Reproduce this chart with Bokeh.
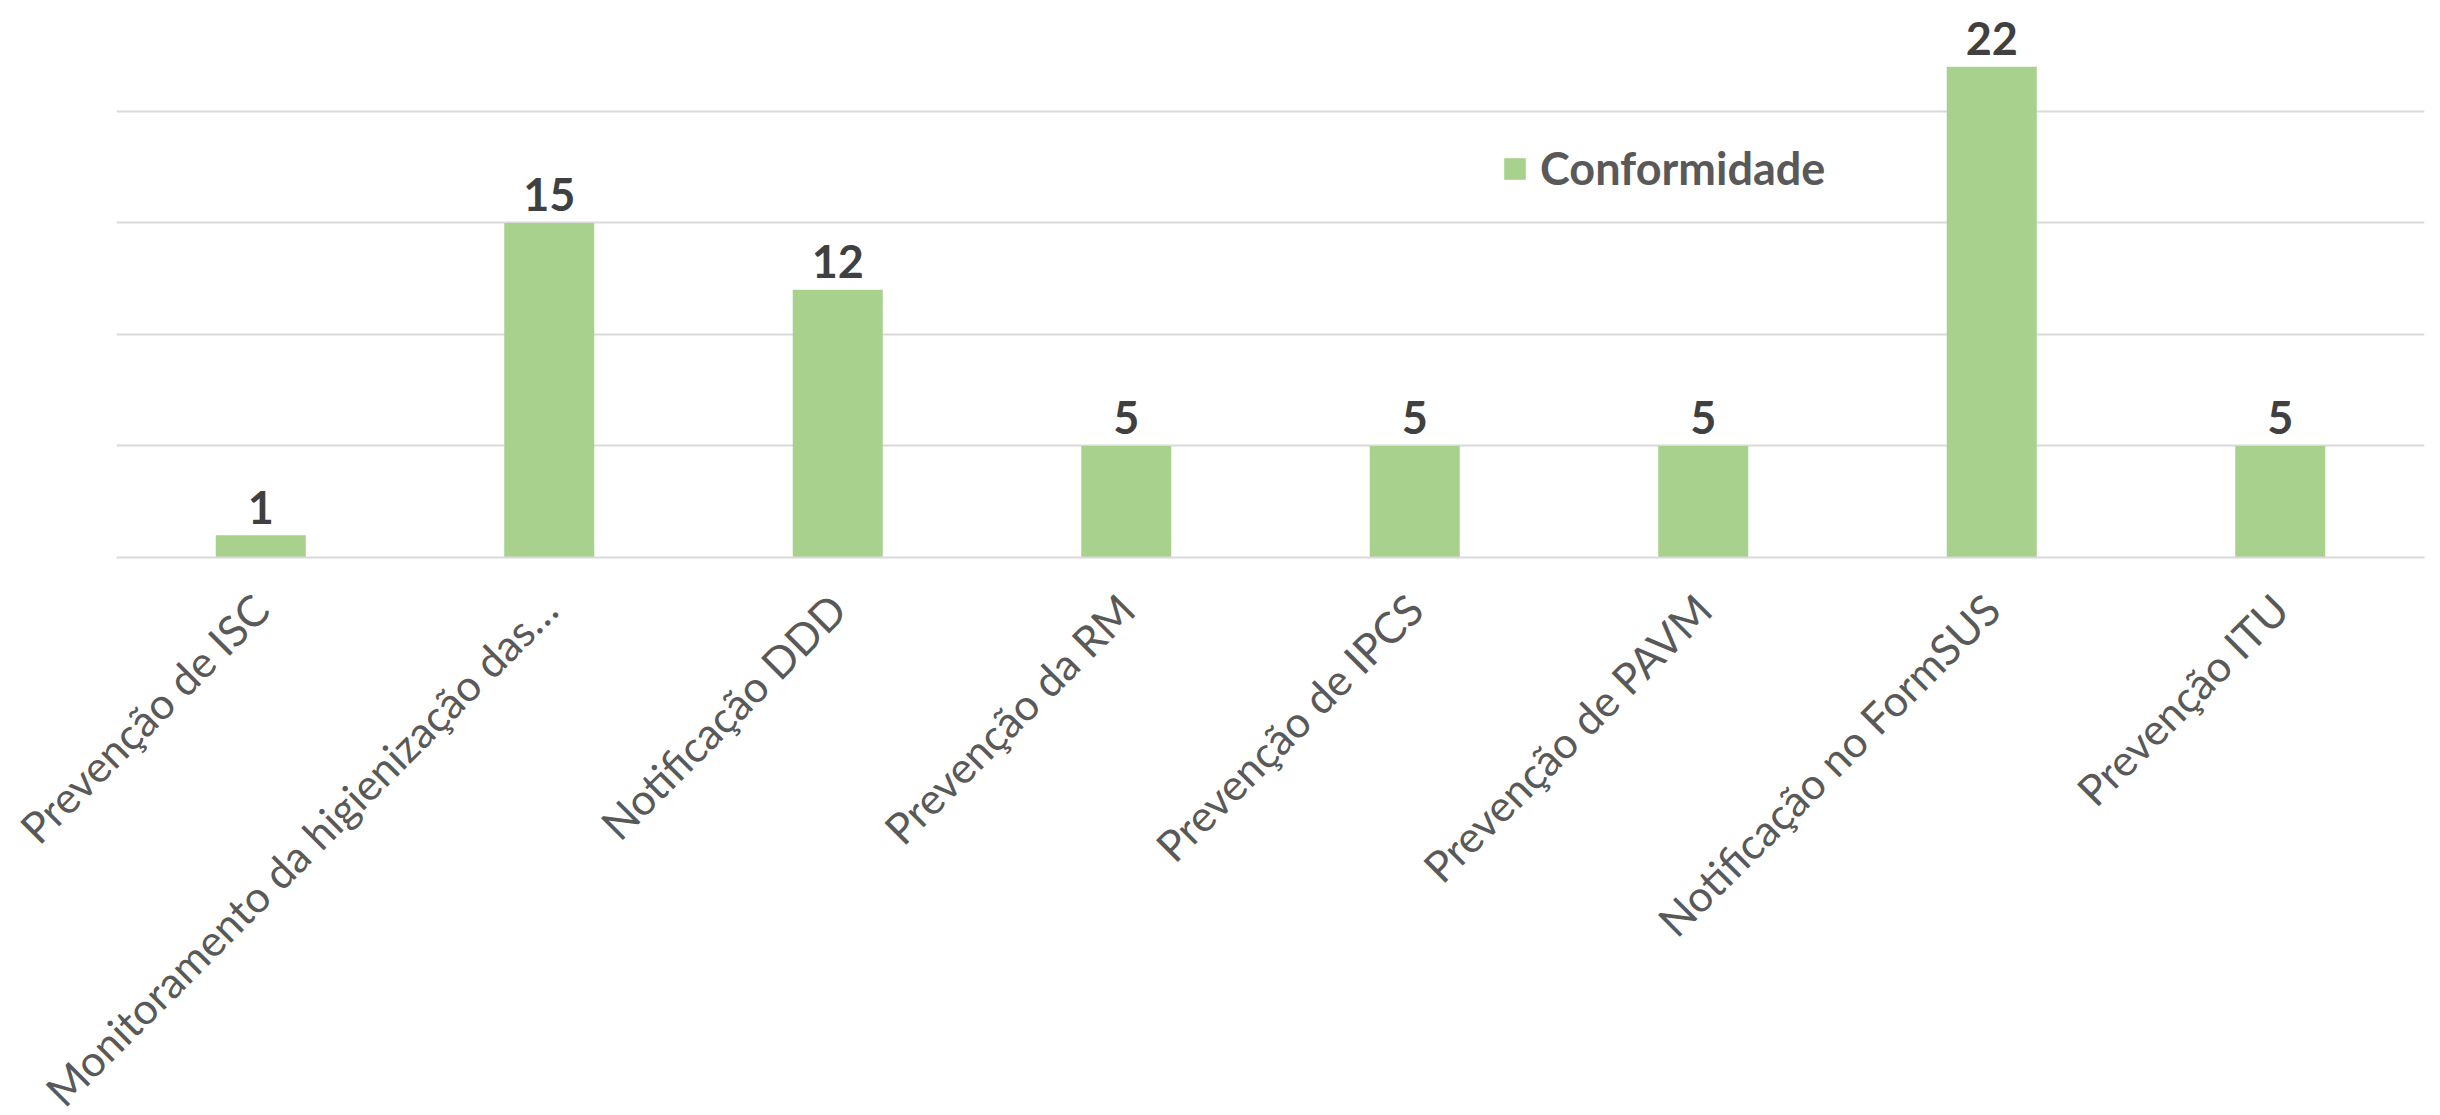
from bokeh.plotting import figure
from bokeh.models import ColumnDataSource, FactorRange, Range1d, Legend, LegendItem, FixedTicker
from bokeh.core.properties import value
from bokeh.embed import file_html
from bokeh.resources import INLINE

categories = [
    "Prevenção de ISC",
    "Monitoramento da higienização das…",
    "Notificação DDD",
    "Prevenção da RM",
    "Prevenção de IPCS",
    "Prevenção de PAVM",
    "Notificação no FormSUS",
    "Prevenção ITU",
]
conformidade = [1, 15, 12, 5, 5, 5, 22, 5]
labels = [str(v) for v in conformidade]
grid_ticks = [0, 5, 10, 15, 20]
series_name = "Conformidade"

BAR = "#A9D18E"
GRID = "#D9D9D9"

src = ColumnDataSource(dict(cat=categories, val=conformidade, lab=labels))

p = figure(
    x_range=FactorRange(*categories, range_padding=0),
    y_range=Range1d(0, 24.97),
    frame_width=2308, frame_height=557,
    min_border_left=116, min_border_right=16, min_border_top=0, min_border_bottom=540,
    output_backend="svg", toolbar_location=None,
)
p.outline_line_color = None
p.background_fill_color = "white"
p.border_fill_color = "white"

p.yaxis.visible = False
p.xgrid.grid_line_color = None
p.ygrid.ticker = FixedTicker(ticks=grid_ticks)
p.ygrid.grid_line_color = GRID
p.ygrid.grid_line_width = 2

r = p.vbar(x="cat", top="val", width=0.312, source=src, fill_color=BAR, line_color=None)

p.text(x="cat", y="val", text="lab", source=src, text_align="center",
       text_baseline="alphabetic", y_offset=-28,
       text_font=value("Lato"), text_font_style="bold", text_font_size="45px",
       text_color="#404040")

xa = p.xaxis[0]
xa.axis_line_color = GRID
xa.axis_line_width = 2
xa.major_tick_line_color = None
xa.minor_tick_line_color = None
xa.major_label_orientation = 0.7854
xa.major_label_text_font = "Lato"
xa.major_label_text_font_size = "43px"
xa.major_label_text_color = "#595959"
xa.major_label_standoff = 38

legend = Legend(items=[LegendItem(label=series_name, renderers=[r])],
                location=(1385, 362), orientation="horizontal",
                padding=0, margin=0, border_line_color=None,
                background_fill_alpha=0,
                glyph_width=27, glyph_height=27, label_height=27,
                label_standoff=12,
                label_text_font="Lato", label_text_font_style="bold",
                label_text_font_size="45px", label_text_color="#595959")
p.add_layout(legend, "center")

open("out.html", "w").write(file_html(p, INLINE))
